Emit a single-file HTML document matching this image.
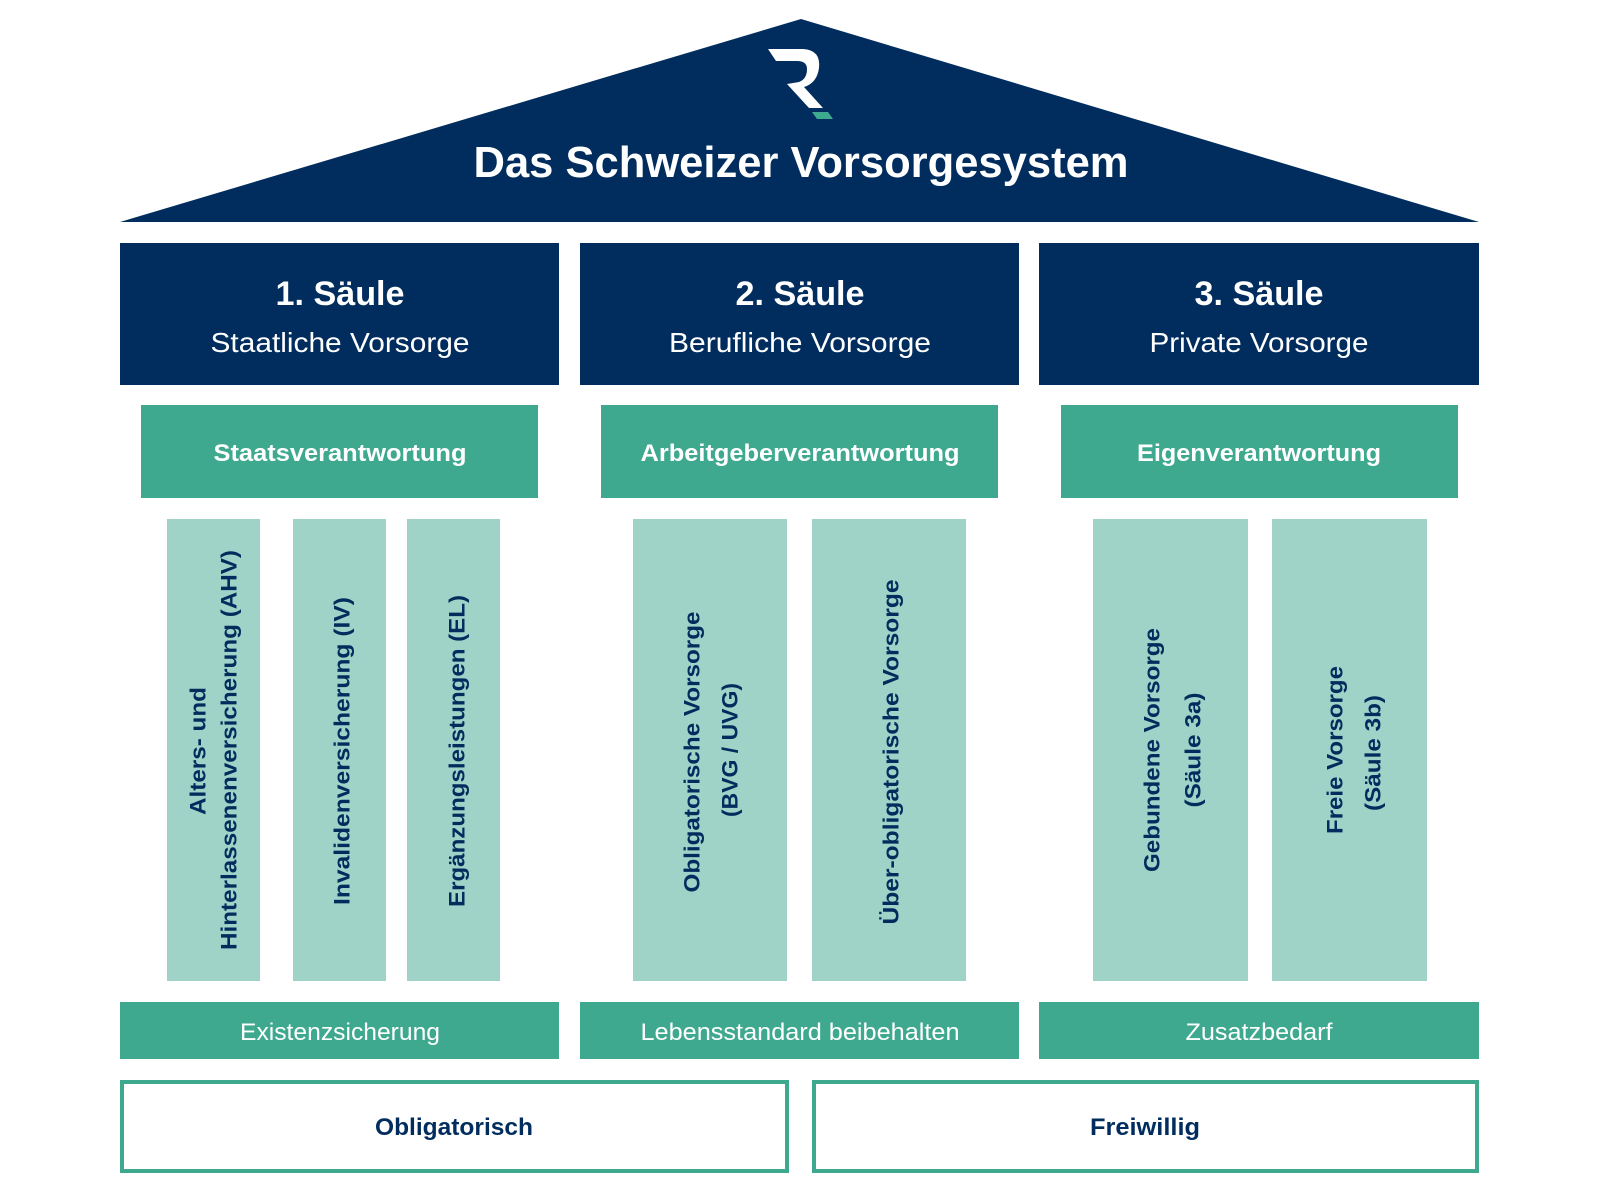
<!DOCTYPE html>
<html><head><meta charset="utf-8"><style>html,body{margin:0;padding:0;background:#fff}svg{display:block}</style></head>
<body>
<svg width="1600" height="1200" viewBox="0 0 1600 1200" xmlns="http://www.w3.org/2000/svg" font-family="Liberation Sans, sans-serif">
<polygon points="120,222 801,19 1479,222" fill="#012d5e"/>
<path d="M768,49 L803,49 Q821,50 819,68 Q817,83 804,87 L823,108 L809,108 L787,84 L799,82 Q807,79 807,69 Q807,61 797,61 L776,61 Z" fill="#fff"/>
<polygon points="812,112 828,112 833,119 817,119" fill="#3ea98f"/>
<text x="801" y="177" font-size="44" font-weight="bold" fill="#fff" text-anchor="middle" textLength="655" lengthAdjust="spacingAndGlyphs">Das Schweizer Vorsorgesystem</text>

<g fill="#012d5e">
<rect x="120" y="243" width="439" height="142"/>
<rect x="580" y="243" width="439" height="142"/>
<rect x="1039" y="243" width="440" height="142"/>
</g>
<g fill="#fff" text-anchor="middle">
<text x="340" y="305" font-size="34" font-weight="bold" textLength="129" lengthAdjust="spacingAndGlyphs">1. Säule</text>
<text x="340" y="352" font-size="28" textLength="259" lengthAdjust="spacingAndGlyphs">Staatliche Vorsorge</text>
<text x="800" y="305" font-size="34" font-weight="bold" textLength="129" lengthAdjust="spacingAndGlyphs">2. Säule</text>
<text x="800" y="352" font-size="28" textLength="262" lengthAdjust="spacingAndGlyphs">Berufliche Vorsorge</text>
<text x="1259" y="305" font-size="34" font-weight="bold" textLength="129" lengthAdjust="spacingAndGlyphs">3. Säule</text>
<text x="1259" y="352" font-size="28" textLength="219" lengthAdjust="spacingAndGlyphs">Private Vorsorge</text>
</g>

<g fill="#3ea98f">
<rect x="141" y="405" width="397" height="93"/>
<rect x="601" y="405" width="397" height="93"/>
<rect x="1061" y="405" width="397" height="93"/>
</g>
<g fill="#fff" text-anchor="middle" font-size="24" font-weight="bold">
<text x="340" y="461" textLength="253" lengthAdjust="spacingAndGlyphs">Staatsverantwortung</text>
<text x="800" y="461" textLength="319" lengthAdjust="spacingAndGlyphs">Arbeitgeberverantwortung</text>
<text x="1259" y="461" textLength="244" lengthAdjust="spacingAndGlyphs">Eigenverantwortung</text>
</g>

<g fill="#9fd3c7">
<rect x="167" y="519" width="93" height="462"/>
<rect x="293" y="519" width="93" height="462"/>
<rect x="407" y="519" width="93" height="462"/>
<rect x="633" y="519" width="154" height="462"/>
<rect x="812" y="519" width="154" height="462"/>
<rect x="1093" y="519" width="155" height="462"/>
<rect x="1272" y="519" width="155" height="462"/>
</g>
<g fill="#012d5e" font-size="22" font-weight="bold" text-anchor="middle" dominant-baseline="central">
<text transform="translate(198,751) rotate(-90)" textLength="128" lengthAdjust="spacingAndGlyphs">Alters- und</text>
<text transform="translate(229,750) rotate(-90)" textLength="400" lengthAdjust="spacingAndGlyphs">Hinterlassenenversicherung (AHV)</text>
<text transform="translate(342,751) rotate(-90)" textLength="308" lengthAdjust="spacingAndGlyphs">Invalidenversicherung (IV)</text>
<text transform="translate(457,751) rotate(-90)" textLength="312" lengthAdjust="spacingAndGlyphs">Ergänzungsleistungen (EL)</text>
<text transform="translate(692,752) rotate(-90)" textLength="281" lengthAdjust="spacingAndGlyphs">Obligatorische Vorsorge</text>
<text transform="translate(730,750) rotate(-90)" textLength="134" lengthAdjust="spacingAndGlyphs">(BVG / UVG)</text>
<text transform="translate(891,752) rotate(-90)" textLength="345" lengthAdjust="spacingAndGlyphs">Über-obligatorische Vorsorge</text>
<text transform="translate(1152,750) rotate(-90)" textLength="244" lengthAdjust="spacingAndGlyphs">Gebundene Vorsorge</text>
<text transform="translate(1193,750) rotate(-90)" textLength="115" lengthAdjust="spacingAndGlyphs">(Säule 3a)</text>
<text transform="translate(1335,750) rotate(-90)" textLength="168" lengthAdjust="spacingAndGlyphs">Freie Vorsorge</text>
<text transform="translate(1373,753) rotate(-90)" textLength="116" lengthAdjust="spacingAndGlyphs">(Säule 3b)</text>
</g>

<g fill="#3ea98f">
<rect x="120" y="1002" width="439" height="57"/>
<rect x="580" y="1002" width="439" height="57"/>
<rect x="1039" y="1002" width="440" height="57"/>
</g>
<g fill="#fff" text-anchor="middle" font-size="24">
<text x="340" y="1040" textLength="200" lengthAdjust="spacingAndGlyphs">Existenzsicherung</text>
<text x="800" y="1040" textLength="319" lengthAdjust="spacingAndGlyphs">Lebensstandard beibehalten</text>
<text x="1259" y="1040" textLength="147" lengthAdjust="spacingAndGlyphs">Zusatzbedarf</text>
</g>

<rect x="122" y="1082" width="665" height="89" fill="#fff" stroke="#3ea98f" stroke-width="4"/>
<rect x="814" y="1082" width="663" height="89" fill="#fff" stroke="#3ea98f" stroke-width="4"/>
<g fill="#012d5e" text-anchor="middle" font-size="24" font-weight="bold">
<text x="454" y="1135" textLength="158" lengthAdjust="spacingAndGlyphs">Obligatorisch</text>
<text x="1145" y="1135" textLength="110" lengthAdjust="spacingAndGlyphs">Freiwillig</text>
</g>
</svg>
</body></html>
